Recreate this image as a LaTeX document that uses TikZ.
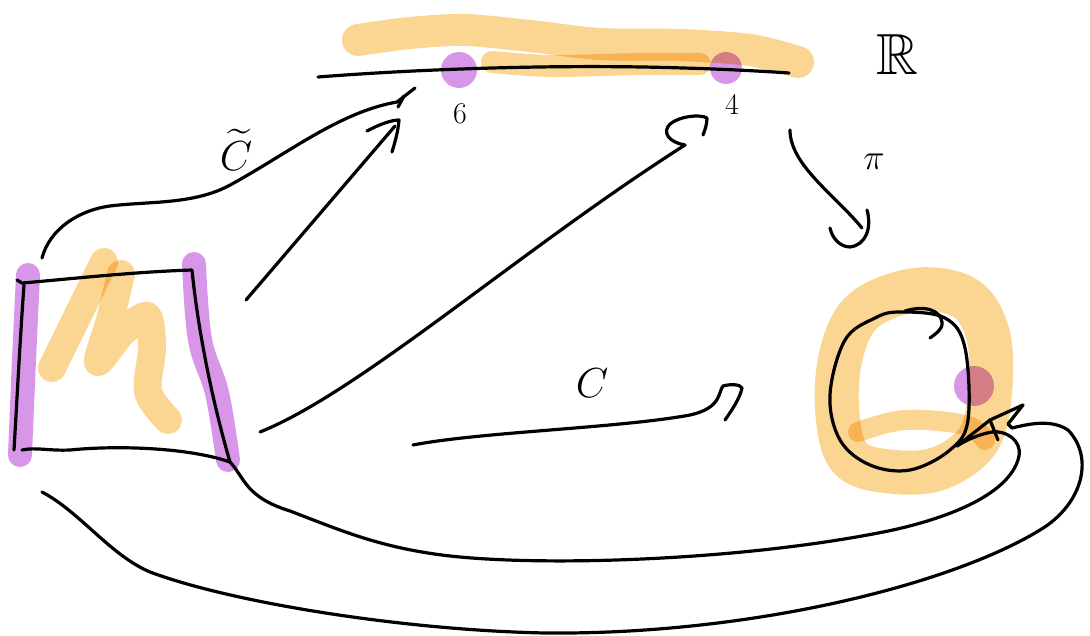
\RequirePackage{fix-cm}
\documentclass[tikz,border=0pt]{standalone}
\usepackage{amssymb}
\definecolor{hlorange}{RGB}{251,214,146}
\definecolor{hlpurple}{RGB}{216,150,232}
\begin{document}
\begin{tikzpicture}[x=1pt,y=-1pt,
  ink/.style={line width=3.2pt, line cap=round, line join=round, draw=black},
  hlo/.style={line width=#1, line cap=round, line join=round, draw=hlorange},
  hlp/.style={line width=#1, line cap=round, line join=round, draw=hlpurple},
  lbl/.style={inner sep=0pt, font=\fontsize{#1}{#1}\selectfont}]
\useasboundingbox (0,0) rectangle (1090,636);

% ---------- highlighter strokes ----------
\begin{scope}[blend mode=multiply]
  % strip along R
  \draw[hlo=32pt] plot[smooth, tension=0.5] coordinates {(358,40) (410,33) (465,30) (530,36) (600,44) (680,45) (750,50) (798,62)};
  \draw[hlo=22pt] plot[smooth, tension=0.5] coordinates {(492,62) (550,66) (640,64) (700,64)};
  % squiggle in the square
  \draw[hlo=28pt] (52,368) -- (104,262);
  \draw[hlo=28pt] plot[smooth, tension=0.5] coordinates {(121,274) (110,320) (98,362) (122,333) (147,316) (152,348) (148,392) (168,420)};
  % ring round the circle
  \draw[hlo=44pt] plot[smooth cycle, tension=0.6] coordinates {(915,290) (965,298) (988,335) (990,392) (978,440) (940,468) (895,472) (852,460) (838,420) (840,360) (862,312)};
  \draw[hlo=20pt] plot[smooth, tension=0.6] coordinates {(858,432) (905,420) (965,425) (985,440)};
  % purple edges of the square
  \draw[hlp=24pt] plot[smooth, tension=0.6] coordinates {(28,275) (24,360) (20,455)};
  \draw[hlp=24pt] plot[smooth, tension=0.6] coordinates {(194,264) (200,340) (217,393) (228,460)};
  % purple dots
  \fill[hlpurple] (459,70) circle (18pt);
  \fill[hlpurple] (726,68) circle (16pt);
  \fill[hlpurple] (974,386) circle (20pt);
\end{scope}

% ---------- named points ----------
\coordinate (sqTL) at (22,283);
\coordinate (sqTR) at (192,270);
\coordinate (sqBR) at (230,462);
\coordinate (sqBL) at (14,450);

% real line R
\draw[ink] (318,77) .. controls (420,69) and (560,64) .. (683,68) .. controls (720,69) and (760,71) .. (789,73);

% the square
\draw[ink] (17,280) -- (sqTL) .. controls (60,280) and (130,272) .. (sqTR)
  .. controls (198,330) and (212,400) .. (sqBR)
  .. controls (190,448) and (120,445) .. (70,450) .. controls (50,451) and (35,447) .. (22,450);
\draw[ink] (24,285) .. controls (20,340) and (17,400) .. (sqBL);

% circle
\draw[ink] plot[smooth cycle, tension=0.6] coordinates {(900,312) (945,318) (965,348) (968,420) (950,450) (910,470) (870,465) (840,440) (830,395) (845,340) (875,318)};
\draw[ink] (905,311) .. controls (925,305) and (940,310) .. (942,322) .. controls (943,330) and (935,334) .. (930,338);

% lift c~ : curve from square top to R
\draw[ink] (42,258) .. controls (50,228) and (80,210) .. (110,206) .. controls (150,201) and (195,205) .. (232,184)
  .. controls (290,152) and (340,112) .. (397,102) -- (415,88);
\draw[ink] (398,107) -- (404,96);

% arrow to the point 6
\draw[ink] (246,300) -- (395,126);
\draw[ink] (367,131) .. controls (380,124) and (392,120) .. (399,120) .. controls (398,132) and (395,142) .. (392,152);

% long arrow to the point 4
\draw[ink] (260,432) .. controls (360,392) and (520,250) .. (685,145);
\draw[ink] (685,145) .. controls (668,142) and (662,132) .. (670,124) .. controls (680,116) and (700,114) .. (707,118) .. controls (707,124) and (705,130) .. (703,135);

% pi arrow
\draw[ink] (790,130) .. controls (790,165) and (835,195) .. (862,228);
\draw[ink] (867,210) .. controls (872,228) and (866,245) .. (850,247) .. controls (840,247) and (832,238) .. (830,228);

% arrow c
\draw[ink] (413,445) .. controls (480,432) and (620,428) .. (690,415) .. controls (722,408) and (718,392) .. (723,386)
  .. controls (730,384) and (740,384) .. (742,388) .. controls (740,398) and (732,410) .. (725,420);

% inner big curve (from right edge of square)
\draw[ink] (sqBR) .. controls (245,478) and (245,497) .. (290,511) .. controls (340,530) and (380,548) .. (450,556)
  .. controls (550,567) and (750,560) .. (893,530) .. controls (960,515) and (1012,490) .. (1019,456)
  .. controls (1022,440) and (1005,430) .. (992,432) .. controls (980,434) and (966,440) .. (957,446);
% outer big curve (from left edge of square)
\draw[ink] (42,492) .. controls (80,512) and (110,555) .. (150,572) .. controls (230,602) and (400,630) .. (545,633)
  .. controls (750,635) and (950,585) .. (1040,530) .. controls (1082,505) and (1095,458) .. (1068,430)
  .. controls (1050,418) and (1025,425) .. (1012,428);
% arrowhead at the circle
\draw[ink] (957,446) -- (990,420) -- (1023,405) -- (1008,424) -- (1012,428);
\draw[ink] (990,420) -- (998,440);

% ---------- labels ----------
\node[lbl=58] (Rlab) at (897,55) {$\mathbb{R}$};
\node[lbl=30] (p0) at (460,114) {6};
\node[lbl=30] (p1) at (732,104) {4};
\node[lbl=42] (ctil) at (236,150) {$\widetilde{C}$};
\node[lbl=36] (pilab) at (874,162) {$\pi$};
\node[lbl=42] (clab) at (592,383) {$C$};
\end{tikzpicture}
\end{document}
